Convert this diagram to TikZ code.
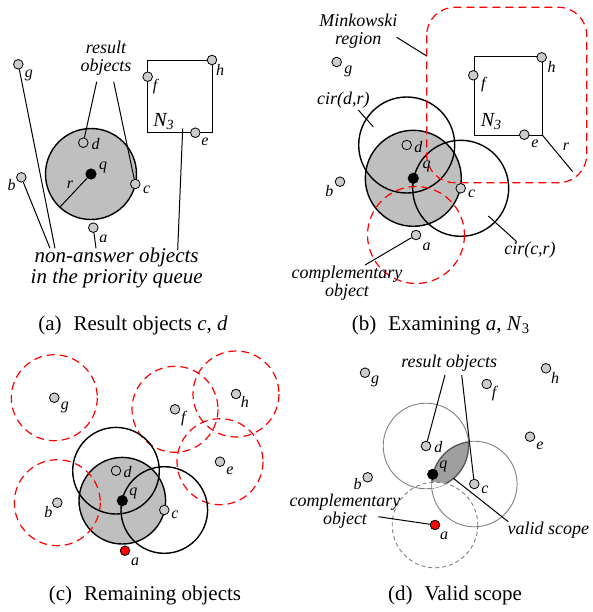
\documentclass[tikz,border=0pt]{standalone}
\usepackage{fontspec}
\setmainfont{Liberation Serif}
\usetikzlibrary{backgrounds}
\tikzset{
  obj/.style={circle,draw,fill=gray!40,inner sep=0pt,minimum size=4.8pt,line width=0.4pt},
  hollow/.style={obj,fill=none},
  hit/.style={obj,fill=red},
  qdot/.style={circle,fill=black,inner sep=0pt,minimum size=5.6pt},
  plab/.style={font=\fontsize{8}{8}\selectfont\itshape,inner sep=0pt},
  nlab/.style={font=\fontsize{10}{10}\selectfont\itshape,inner sep=0pt},
  note/.style={font=\fontsize{9}{8.8}\selectfont\itshape,align=center,inner sep=0pt},
  bignote/.style={font=\fontsize{10.5}{9.3}\selectfont\itshape,align=center,inner sep=0pt},
  subcap/.style={font=\fontsize{10.5}{12}\selectfont,inner sep=0pt},
  disc/.style={draw,fill=gray!50,line width=0.7pt},
  ring/.style={draw,line width=0.7pt},
  thinring/.style={draw=gray,line width=0.45pt},
  mink/.style={draw=red,line width=0.6pt,dash pattern=on 4pt off 2.5pt},
  ptr/.style={line width=0.5pt},
}
\begin{document}
\begin{tikzpicture}[x=0.5pt,y=-0.5pt]
\useasboundingbox (0,0) rectangle (593,612);
% (a)
\node[qdot] (q1) at (91,174) {};
\node[obj] (g1) at (18.3,64.3) {};
\node[obj] (b1) at (21.3,177.3) {};
\node[hollow] (d1) at (83.3,142.7) {};
\node[obj] (c1) at (135.3,184) {};
\node[obj] (a1) at (93.3,227.7) {};
\draw[ptr] (147.7,60) rectangle (212,132.7);
\node[obj] (f1) at (147.7,76.7) {};
\node[obj] (h1) at (212,60) {};
\node[obj] (e1) at (195.3,132.7) {};
\coordinate (r1) at (60,207);
\coordinate (box1) at (182.7,128.3);
\begin{scope}[on background layer]
\filldraw[disc] (q1) circle (45.5);
\draw[ptr] (q1) -- (r1);
\end{scope}
\node[plab] (q1l) at (103,167) {q};
\node[plab] (r1l) at (70,185) {r};
\node[plab] (g1l) at (29,75) {g};
\node[plab] (b1l) at (11.7,185) {b};
\node[plab] (d1l) at (95.7,144) {d};
\node[plab] (c1l) at (146.7,190) {c};
\node[plab] (a1l) at (103.3,239) {a};
\node[plab] (f1l) at (155,87) {f};
\node[plab] (h1l) at (220,70) {h};
\node[plab] (e1l) at (205,141.7) {e};
\node[nlab] (n1l) at (164,121.7) {N\textsubscript{3}};
\node[note] (res1) at (106,58) {result\\objects};
\node[bignote] (queue1) at (116.7,267.5) {non-answer objects\\in the priority queue};
\coordinate (res1a) at (96.7,81.7);
\coordinate (res1b) at (113.7,81.7);
\coordinate (queue1g) at (55,248.3);
\coordinate (queue1b) at (50,248.3);
\coordinate (queue1a) at (96,248.3);
\coordinate (queue1n) at (177.7,250);
\draw[ptr] (res1a) -- (d1);
\draw[ptr] (res1b) -- (c1);
\draw[ptr] (queue1g) -- (g1);
\draw[ptr] (queue1b) -- (b1);
\draw[ptr] (queue1a) -- (a1);
\draw[ptr] (queue1n) -- (box1);
\node[subcap] (cap1) at (133,325) {(a)\hspace{6pt}Result objects \textit{c}, \textit{d}};
% (b)
\node[qdot] (q2) at (413.3,178.3) {};
\node[obj] (g2) at (336.7,62) {};
\node[obj] (b2) at (340,181.7) {};
\node[hollow] (d2) at (406.7,145) {};
\node[obj] (c2) at (460.7,188.3) {};
\node[obj] (a2) at (416,235) {};
\draw[ptr] (474.3,56.7) rectangle (542.3,135);
\node[obj] (f2) at (473.3,75.3) {};
\node[obj] (h2) at (541.7,57.3) {};
\node[obj] (e2) at (524.3,134.7) {};
\coordinate (box2) at (542.3,135);
\coordinate (r2) at (572.7,171.7);
\begin{scope}[on background layer]
\filldraw[disc] (q2) circle (48);
\draw[ring] (d2) circle (48);
\draw[ring] (c2) circle (48);
\draw[mink] (a2) circle (48.5);
\draw[mink,rounded corners=14pt] (426.7,7.3) rectangle (586.7,182.7);
\end{scope}
\draw[ptr] (box2) -- (r2);
\node[plab] (q2l) at (426.7,166.7) {q};
\node[plab] (r2l) at (566,146.7) {r};
\node[plab] (g2l) at (348.3,71.7) {g};
\node[plab] (b2l) at (329.3,190.7) {b};
\node[plab] (d2l) at (418.3,146.7) {d};
\node[plab] (c2l) at (471.7,194) {c};
\node[plab] (a2l) at (426.7,246.7) {a};
\node[plab] (f2l) at (483.3,85) {f};
\node[plab] (h2l) at (551.7,66.7) {h};
\node[plab] (e2l) at (535,144) {e};
\node[nlab] (n2l) at (491.5,121.7) {N\textsubscript{3}};
\node[note] (mink2) at (358.3,31) {Minkowski\\region};
\node[note] (cird2) at (343.3,100) {cir(d,r)};
\node[note] (circ2) at (530,250) {cir(c,r)};
\node[note] (comp2) at (347,283) {complementary\\object};
\coordinate (mink2a) at (396.7,37.3);
\coordinate (mink2b) at (426.7,56);
\coordinate (cird2a) at (358.3,110);
\coordinate (cird2b) at (373.3,126.7);
\coordinate (circ2a) at (516.7,241.7);
\coordinate (circ2b) at (488.3,216);
\coordinate (comp2a) at (365,265);
\draw[ptr] (mink2a) -- (mink2b);
\draw[ptr] (cird2a) -- (cird2b);
\draw[ptr] (circ2a) -- (circ2b);
\draw[ptr] (comp2a) -- (a2);
\node[subcap] (cap2) at (441,325) {(b)\hspace{6pt}Examining \textit{a}, \textit{N}\textsubscript{3}};
% (c)
\node[qdot] (q3) at (122.3,500.7) {};
\node[obj] (g3) at (54.3,397.7) {};
\node[obj] (b3) at (57.3,502.7) {};
\node[hollow] (d3) at (116,470.7) {};
\node[obj] (c3) at (164.3,510) {};
\node[hit] (a3) at (125,550.7) {};
\node[obj] (f3) at (175,409.3) {};
\node[obj] (h3) at (236,394) {};
\node[obj] (e3) at (220,461.7) {};
\begin{scope}[on background layer]
\filldraw[disc] (q3) circle (43.3);
\foreach \p in {g3,b3,f3,h3,e3}
  \draw[mink] (\p) circle (43);
\draw[ring] (d3) circle (43.3);
\draw[ring] (c3) circle (43.3);
\end{scope}
\node[plab] (q3l) at (133.3,493.3) {q};
\node[plab] (g3l) at (65,407.3) {g};
\node[plab] (b3l) at (48.3,511.7) {b};
\node[plab] (d3l) at (127.7,472.3) {d};
\node[plab] (c3l) at (175,515) {c};
\node[plab] (a3l) at (135,561.7) {a};
\node[plab] (f3l) at (183.3,418.3) {f};
\node[plab] (h3l) at (245,401.7) {h};
\node[plab] (e3l) at (230,470.7) {e};
\node[subcap] (cap3) at (145,595) {(c)\hspace{6pt}Remaining objects};
% (d)
\node[qdot] (q4) at (432.7,474.3) {};
\node[obj] (g4) at (365,372.7) {};
\node[obj] (b4) at (367.7,477.3) {};
\node[obj] (d4) at (426,446) {};
\node[obj] (c4) at (474.3,484) {};
\node[hit] (a4) at (435,525) {};
\node[obj] (f4) at (486.7,384) {};
\node[obj] (h4) at (546,368.3) {};
\node[obj] (e4) at (530,436.7) {};
\begin{scope}[on background layer]
\draw[thinring] (d4) circle (42.8);
\draw[thinring] (c4) circle (42.8);
\begin{scope}
\clip (d4) circle (42.8);
\clip (c4) circle (42.8);
\fill[gray!75] (d4) circle (42.8);
\draw[black!70,line width=0.9pt] (d4) circle (42.8) (c4) circle (42.8);
\fill[white] (a4) circle (42.8);
\end{scope}
\draw[thinring,dash pattern=on 2pt off 1.5pt] (a4) circle (42.8);
\end{scope}
\node[plab] (q4l) at (443.3,466.7) {q};
\node[plab] (g4l) at (375,381.7) {g};
\node[plab] (b4l) at (357.7,484) {b};
\node[plab] (d4l) at (438.3,446.7) {d};
\node[plab] (c4l) at (485,490) {c};
\node[plab] (a4l) at (444,536) {a};
\node[plab] (f4l) at (494,393.3) {f};
\node[plab] (h4l) at (555,377.7) {h};
\node[plab] (e4l) at (540,446) {e};
\node[note] (res4) at (449.3,363.3) {result objects};
\node[note] (comp4) at (345,511) {complementary\\object};
\node[note] (scope4) at (548.3,530) {valid scope};
\coordinate (res4a) at (445,375);
\coordinate (res4b) at (461.7,375);
\coordinate (comp4a) at (378.3,516.7);
\coordinate (scope4a) at (508.3,521.7);
\coordinate (scope4b) at (453.3,478.3);
\draw[ptr] (res4a) -- (d4);
\draw[ptr] (res4b) -- (c4);
\draw[ptr] (comp4a) -- (a4);
\draw[ptr] (scope4a) -- (scope4b);
\node[subcap] (cap4) at (455,595) {(d)\hspace{6pt}Valid scope};
\end{tikzpicture}
\end{document}
